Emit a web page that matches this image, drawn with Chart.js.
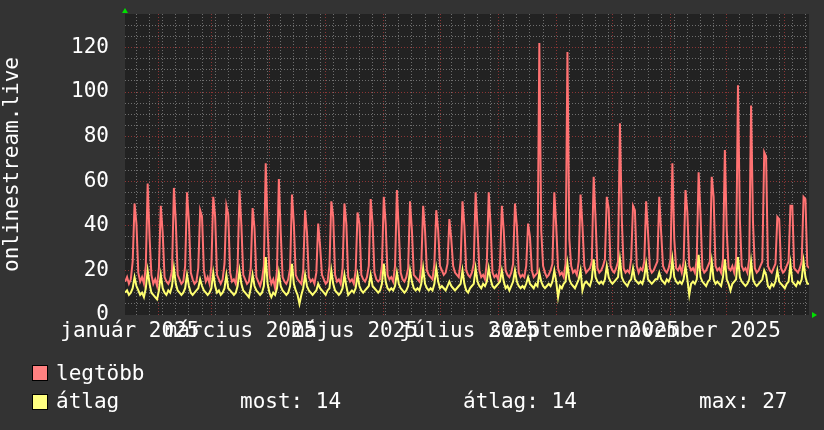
<!DOCTYPE html>
<html><head><meta charset="utf-8">
<style>
html,body{margin:0;padding:0;background:#333333;}
#wrap{position:relative;width:824px;height:430px;overflow:hidden;background:#333333;}
#c{position:absolute;left:0;top:0;}
.lg{position:absolute;font-family:'DejaVu Sans Mono';font-size:21px;line-height:21px;color:#ffffff;white-space:pre;}
.sw{position:absolute;width:14px;height:14px;border:1px solid #000;}
</style>
<script src="https://cdn.jsdelivr.net/npm/chart.js"></script>
</head><body>
<div id="wrap">
<canvas id="c" width="824" height="430"></canvas>
<div class="sw" style="left:32px;top:365px;background:#ff8080"></div>
<div class="lg" style="left:56px;top:363px">legtöbb</div>
<div class="sw" style="left:32px;top:394px;background:#ffff80"></div>
<div class="lg" style="left:56px;top:391px">átlag</div>
<div class="lg" id="s1" style="left:240px;top:391px"></div>
<div class="lg" id="s2" style="left:463px;top:391px"></div>
<div class="lg" id="s3" style="left:699px;top:391px"></div>
</div>
<script>
// ---- data (daily values, first day = day 13 of 2025, i.e. 14 Jan 2025) ----
const startDay = 13;
const seriesNames = ['legtöbb', 'átlag'];
const maxVals = [
15,17,14,16,24,50,41, 19,15,17,14,22,59,35, 18,14,16,13,21,49,37, 17,15,14,16,20,57,42,
18,16,14,15,22,55,42, 19,16,14,15,21,47,44, 20,15,17,14,22,53,44, 18,16,14,16,23,49,45,
19,15,16,14,22,56,40, 18,16,14,15,21,48,39, 17,15,13,16,22,68,39, 18,14,16,12,20,61,37,
17,15,14,16,21,54,41, 18,16,15,14,20,47,37, 17,15,16,14,19,41,31, 18,16,14,15,22,51,44,
18,15,16,14,21,50,41, 17,15,16,14,20,46,41, 18,16,15,17,22,52,41, 19,16,15,16,22,53,41,
18,16,17,15,22,56,38, 19,16,15,17,21,51,38, 18,17,16,15,22,49,38, 20,18,17,16,23,47,38,
22,20,18,19,23,43,34, 22,19,18,17,24,51,40, 20,18,17,19,23,55,39, 20,17,18,16,24,55,40,
19,17,18,16,22,49,38, 20,18,17,19,23,50,40, 19,17,18,17,22,41,35, 20,17,18,19,122,38,22,
19,17,18,20,23,55,40, 21,18,19,17,23,118,34, 22,19,20,18,24,54,40, 22,19,20,21,24,62,43,
21,19,20,22,25,53,48, 22,20,19,21,24,86,43, 21,19,20,19,25,49,47, 22,19,21,20,24,51,37,
21,19,20,22,24,53,37, 22,20,19,21,25,68,34, 21,20,22,19,24,56,46, 22,20,21,19,25,64,45,
21,19,20,22,24,62,53, 22,20,21,19,25,74,38, 21,20,22,19,24,103,43, 22,20,21,19,25,94,42,
21,19,20,22,24,73,71, 22,20,19,21,23,44,43, 21,19,20,22,24,49,49, 21,20,19,21,24,53,52,
22,21
];
const avgVals = [
10,11,9,10,12,17,13, 11,9,10,8,12,20,14, 10,9,8,7,11,18,12, 10,9,11,10,13,21,14,
11,10,9,10,12,18,13, 10,9,10,11,12,16,13, 11,10,9,10,12,19,13, 10,11,9,10,12,18,12,
11,10,9,10,13,20,14, 11,10,9,8,12,18,13, 11,10,9,10,13,26,14, 10,8,10,9,12,19,13,
11,10,9,10,13,23,14, 11,9,5,9,12,18,13, 11,10,9,10,11,14,12, 11,10,9,11,12,20,14,
11,10,9,10,12,18,13, 9,10,11,10,12,18,13, 11,10,11,12,13,18,13, 12,11,10,11,14,23,15,
12,11,12,11,13,19,14, 12,11,10,11,13,20,15, 12,11,12,11,14,21,14, 12,11,12,11,14,21,15,
12,13,12,11,13,15,13, 12,11,12,13,14,20,14, 11,10,12,13,14,21,15, 13,12,14,13,15,21,16,
13,12,13,14,15,20,15, 12,13,11,13,15,20,15, 13,12,13,12,14,17,14, 13,12,14,13,19,15,13,
12,13,14,13,15,20,15, 8,13,12,14,15,23,16, 14,13,12,14,16,20,11, 14,15,14,13,16,25,17,
15,14,15,14,16,22,17, 15,14,15,16,17,25,17, 15,14,13,15,16,21,16, 15,14,15,14,17,23,16,
15,14,15,16,16,19,16, 15,14,16,15,17,25,17, 15,14,15,14,16,22,16, 9,14,15,14,16,27,17,
15,14,13,15,16,24,16, 14,15,14,13,17,25,16, 14,11,14,15,16,26,17, 15,14,13,14,16,24,16,
14,13,14,15,16,20,18, 13,12,14,13,15,20,15, 14,13,12,14,15,23,15, 14,13,15,14,16,24,17,
14,14
];
const statLabels = ['most: 14', 'átlag: 14', 'max: 27'];

// ---- axis definitions (day numbers within 2025) ----
const xMin = 12.9, xMax = 377.9;
const monthStartDays = [31, 59, 90, 120, 151, 181, 212, 243, 273, 304, 334, 365];
const labelDays = [15.5, 74.5, 135.5, 196.5, 258, 319];
const labelTexts = ['január 2025', 'március 2025', 'május 2025', 'július 2025', 'szeptember 2025', 'november 2025'];
const firstMonday = 19;
const yMax = 135, yStep = 5, yLabelStep = 20;

document.getElementById('s1').textContent = statLabels[0];
document.getElementById('s2').textContent = statLabels[1];
document.getElementById('s3').textContent = statLabels[2];

const COL_MINOR = 'rgba(115,115,115,0.95)';
const COL_MAJOR = 'rgba(145,55,55,0.95)';
const FONT = {family: 'DejaVu Sans Mono', size: 21};

const toPts = arr => arr.map((v, i) => ({x: startDay + i, y: v}));

// x ticks: labels + month lines + weekly lines
const xTicks = [];
labelDays.forEach((d, i) => xTicks.push({value: d, kind: 'label', text: labelTexts[i]}));
for (let d = firstMonday; d <= xMax; d += 7) {
  if (monthStartDays.indexOf(d) < 0) xTicks.push({value: d, kind: 'minor', text: ''});
}
monthStartDays.forEach(d => xTicks.push({value: d, kind: 'major', text: ''}));

const yTicks = [];
for (let v = 0; v < yMax; v += yStep) yTicks.push({value: v});

const zeroPad = s => { s.paddingTop = 0; s.paddingBottom = 0; s.paddingLeft = 0; s.paddingRight = 0; };

const bgPlugin = {
  id: 'bg',
  beforeDraw(chart) {
    const {ctx, chartArea: a} = chart;
    ctx.save();
    ctx.fillStyle = '#333333';
    ctx.fillRect(0, 0, chart.width, chart.height);
    ctx.fillStyle = '#222222';
    ctx.fillRect(a.left, a.top, a.right - a.left, a.bottom - a.top);
    ctx.restore();
  },
  afterDraw(chart) {
    const {ctx, chartArea: a} = chart;
    ctx.save();
    ctx.fillStyle = '#00e000';
    ctx.beginPath();
    ctx.moveTo(a.left, a.top - 6); ctx.lineTo(a.left - 3, a.top - 1); ctx.lineTo(a.left + 3, a.top - 1);
    ctx.closePath(); ctx.fill();
    ctx.beginPath();
    ctx.moveTo(a.right + 8, a.bottom); ctx.lineTo(a.right + 3, a.bottom - 3); ctx.lineTo(a.right + 3, a.bottom + 3);
    ctx.closePath(); ctx.fill();
    ctx.restore();
  }
};

new Chart(document.getElementById('c'), {
  type: 'line',
  data: {
    datasets: [
      {label: seriesNames[1], data: toPts(avgVals), borderColor: '#ffff70', borderWidth: 2, pointRadius: 0, tension: 0, order: 1},
      {label: seriesNames[0], data: toPts(maxVals), borderColor: '#ff7272', borderWidth: 2, pointRadius: 0, tension: 0, order: 2}
    ]
  },
  options: {
    responsive: false,
    animation: false,
    devicePixelRatio: 1,
    layout: {padding: {top: 14, right: 15, left: 0, bottom: 0}},
    plugins: {legend: {display: false}, tooltip: {enabled: false}},
    scales: {
      x: {
        type: 'linear', min: xMin, max: xMax,
        afterBuildTicks: s => { s.ticks = xTicks.map(t => ({value: t.value})); },
        afterFit: s => { s.height = 115; zeroPad(s); },
        ticks: {
          autoSkip: false, maxRotation: 0, minRotation: 0, padding: 4,
          color: '#ffffff', font: FONT,
          callback: (v, i) => xTicks[i] ? xTicks[i].text : ''
        },
        grid: {
          drawTicks: false,
          color: c => { const t = xTicks[c.index]; if (!t || t.kind === 'label') return 'rgba(0,0,0,0)'; return t.kind === 'major' ? COL_MAJOR : COL_MINOR; },
          lineWidth: 1
        },
        border: {display: false, dash: [1, 2]}
      },
      y: {
        type: 'linear', min: 0, max: yMax,
        afterBuildTicks: s => { s.ticks = yTicks.map(t => ({value: t.value})); },
        afterFit: s => { s.width = 125; zeroPad(s); },
        ticks: {
          autoSkip: false, padding: 16, color: '#ffffff', font: FONT,
          callback: v => (v % yLabelStep === 0 ? String(v) : '')
        },
        grid: {
          drawTicks: false,
          color: c => { const v = c.tick.value; if (v === 0) return 'rgba(0,0,0,0)'; return v % yLabelStep === 0 ? COL_MAJOR : COL_MINOR; },
          lineWidth: 1
        },
        border: {display: false, dash: [1, 2]},
        title: {display: true, text: 'onlinestream.live', color: '#ffffff', font: FONT, padding: {top: 0, bottom: 0}}
      }
    }
  },
  plugins: [bgPlugin]
});
</script>
</body></html>
